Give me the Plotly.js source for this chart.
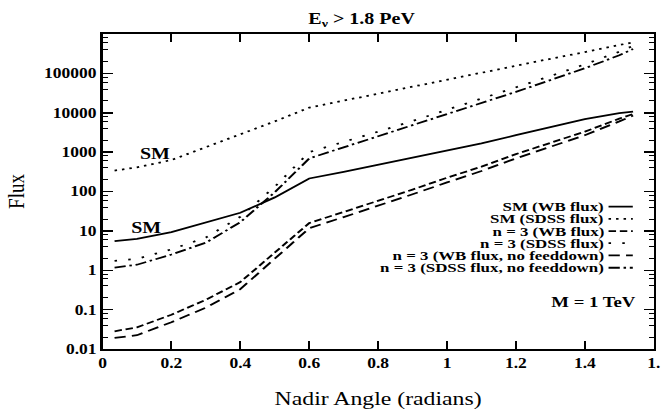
<!DOCTYPE html>
<html>
<head>
<meta charset="utf-8">
<script src="https://cdn.plot.ly/plotly-3.0.1.min.js"></script>
<style>
  html, body { margin: 0; padding: 0; background: #fff; }
  #wrap { width: 669px; height: 417px; overflow: hidden; position: relative; }
  #plot { width: 535px; height: 417px; transform: scaleX(1.25); transform-origin: 0 0; }
</style>
</head>
<body>
<div id="wrap"><div id="plot"></div></div>
<script>
// Nadir angle (radians)
const angle = [0.035, 0.1, 0.2, 0.3, 0.4, 0.5, 0.6, 0.7, 0.8, 0.9, 1.0, 1.1, 1.2, 1.3, 1.4, 1.5, 1.54];

// Flux series
const smWB = [5.5, 6.3, 9.3, 16.2, 28.8, 70.8, 214, 316, 479, 708, 1096, 1660, 2692, 4266, 6918, 9772, 10715];
const smSDSS = [340, 410, 630, 1320, 2820, 6030, 13500, 20400, 30200, 45700, 69200, 102300, 155000, 234400, 346700, 524800, 616600];
const n3WB = [0.0282, 0.0355, 0.0741, 0.178, 0.501, 2.82, 15.8, 30.2, 57.5, 112, 224, 427, 891, 1698, 3311, 7079, 9333];
const n3SDSS = [1.74, 1.95, 3.39, 6.76, 22.9, 132, 1000, 1778, 3311, 6166, 11750, 22390, 43650, 85110, 169800, 354800, 501200];
const n3WBnf = [0.0191, 0.0224, 0.0479, 0.112, 0.331, 1.91, 11.7, 22.4, 42.7, 85.1, 170, 331, 692, 1349, 2692, 6026, 8511];
const n3SDSSnf = [1.17, 1.38, 2.51, 5.01, 16.6, 95.5, 692, 1318, 2512, 4786, 9120, 17380, 33880, 67610, 134900, 288400, 416900];

const seriesNames = ['SM (WB flux)', 'SM (SDSS flux)', 'n = 3 (WB flux)', 'n = 3 (SDSS flux)',
                     'n = 3 (WB flux, no feeddown)', 'n = 3 (SDSS flux, no feeddown)'];

// Tick labels
const xTickVals = [0, 0.2, 0.4, 0.6, 0.8, 1.0, 1.2, 1.4, 1.6];
const xTickText = ['0', '0.2', '0.4', '0.6', '0.8', '1', '1.2', '1.4', '1.'];
const yTickVals = [0.01, 0.1, 1, 10, 100, 1000, 10000, 100000];
const yTickText = ['0.01', '0.1', '1', '10', '100', '1000', '10000', '100000'];

const FONT = '"Liberation Serif", Tinos, "Times New Roman", Times, serif';
const dashes = ['solid', '2px,4px', '6px,3px', '2px,9px', '9px,5px', '9px,3px,2px,3px'];
const ys = [smWB, smSDSS, n3WB, n3SDSS, n3WBnf, n3SDSSnf];

const traces = ys.map((y, i) => ({
  x: angle, y: y, type: 'scatter', mode: 'lines', name: seriesNames[i],
  line: { color: '#000', width: 1.8, dash: dashes[i] }, showlegend: false
}));

// minor ticks on log axis
const minorVals = [];
for (let e = -2; e < 6; e++) { [2, 4, 6, 8].forEach(m => minorVals.push(m * Math.pow(10, e))); }

// manual key (text right-aligned, sample to the right)
const keyY = [0.452, 0.413, 0.374, 0.336, 0.297, 0.258];
const shapes = [];
const annotations = [];
seriesNames.forEach((nm, i) => {
  annotations.push({ xref: 'paper', yref: 'paper', x: 0.911, y: keyY[i], xanchor: 'right', yanchor: 'middle',
    text: nm, showarrow: false, borderpad: 0,
    font: { family: FONT, size: 13.5, color: '#000', weight: 'bold' } });
  shapes.push({ type: 'line', xref: 'paper', yref: 'paper', x0: 0.918, x1: 0.962, y0: keyY[i], y1: keyY[i],
    line: { color: '#000', width: 1.8, dash: dashes[i] } });
});
annotations.push({ x: 0.151, y: Math.log10(940), text: 'SM', showarrow: false,
  font: { family: FONT, size: 16, color: '#000', weight: 'bold' } });
annotations.push({ x: 0.128, y: Math.log10(12), text: 'SM', showarrow: false,
  font: { family: FONT, size: 16, color: '#000', weight: 'bold' } });
annotations.push({ x: 1.423, y: Math.log10(0.155), text: 'M = 1 TeV', showarrow: false,
  font: { family: FONT, size: 15, color: '#000', weight: 'bold' } });

const axisCommon = {
  showline: true, linewidth: 2, linecolor: '#000', mirror: 'ticks',
  ticks: 'inside', ticklen: 8, tickwidth: 1.5, tickcolor: '#000',
  showgrid: false, zeroline: false, automargin: false,
  tickfont: { family: FONT, size: 14, color: '#000', weight: 'bold' }
};

const layout = {
  width: 535, height: 417,
  margin: { l: 81.6, r: 12, t: 34, b: 68 },
  paper_bgcolor: '#fff', plot_bgcolor: '#fff',
  font: { family: FONT, color: '#000' },
  title: { text: 'E<sub>ν</sub> &gt; 1.8 PeV', x: 0.47, xref: 'paper', xanchor: 'center',
    y: 1 - 18 / 417, yref: 'container', yanchor: 'middle',
    font: { family: FONT, size: 16, color: '#000', weight: 'bold' } },
  xaxis: Object.assign({}, axisCommon, {
    range: [0, 1.6], tickmode: 'array', tickvals: xTickVals, ticktext: xTickText,
    title: { text: 'Nadir Angle (radians)', standoff: 22, font: { family: FONT, size: 19, color: '#000' } }
  }),
  yaxis: Object.assign({}, axisCommon, {
    type: 'log', range: [-2, 6], tickmode: 'array', tickvals: yTickVals, ticktext: yTickText,
    minor: { ticks: 'inside', ticklen: 4, tickwidth: 1, tickcolor: '#000', tickmode: 'array', tickvals: minorVals },
    title: { text: 'Flux', standoff: 10, font: { family: FONT, size: 19, color: '#000' } }
  }),
  shapes: shapes,
  annotations: annotations
};

Plotly.newPlot('plot', traces, layout, { staticPlot: true, displayModeBar: false });
</script>
</body>
</html>
